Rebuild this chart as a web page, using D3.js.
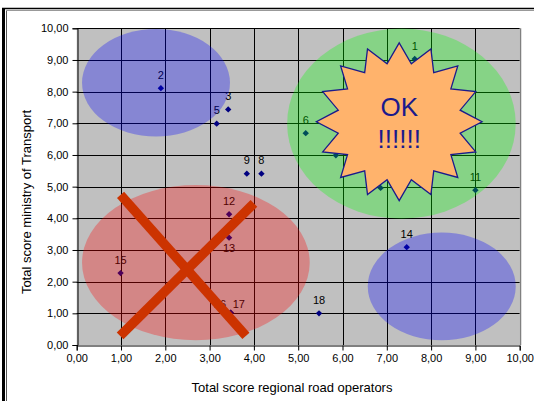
<!DOCTYPE html>
<html><head><meta charset="utf-8">
<script src="https://cdn.jsdelivr.net/npm/d3@7"></script>
<style>html,body{margin:0;padding:0;background:#fff;}svg{display:block;font-family:Arial,"Liberation Sans",sans-serif;}</style>
</head><body>
<svg id="c" width="534" height="401"></svg>
<script>
// ---- data ----
const pointLabels = ["1","2","3","5","6","7","8","9","10","11","12","13","14","15","16","17","18"];
const xScores = [7.63,1.90,3.42,3.16,5.17,5.85,4.17,3.84,6.86,9.00,3.44,3.44,7.45,0.99,3.47,3.48,5.47];
const yScores = [9.03,8.11,7.44,6.99,6.69,5.99,5.41,5.41,4.96,4.89,4.13,3.39,3.09,2.27,1.02,1.02,1.00];
const tickValues = [0,1,2,3,4,5,6,7,8,9,10];
const xTitle = "Total score regional road operators";
const yTitle = "Total score ministry of Transport";
// annotation shapes in data units
const ellipseNames = ["blueTop","green","red","blueBottom"];
const ellipseCx = [1.79,7.33,2.69,8.24];
const ellipseCy = [8.28,6.99,2.60,1.85];
const ellipseRx = [1.67,2.58,2.57,1.67];
const ellipseRy = [1.70,3.00,2.45,1.70];
const starCenter = [7.28,7.05];
const starRadii = [1.87,2.49];
const starText = ["OK","!!!!!!"];
const crossStart = [[0.99,4.74],[0.98,0.29]];
const crossEnd = [[3.82,0.29],[4.00,4.47]];

// ---- layout ----
const svg = d3.select("#c");
const x = d3.scaleLinear().domain([0,10]).range([76.7,519.7]);
const y = d3.scaleLinear().domain([0,10]).range([345,28.3]);
const fmt = d => d.toFixed(2).replace(".", ",");

// outer frame
svg.append("rect").attr("x",2).attr("y",8).attr("width",3).attr("height",393).attr("fill","#000");
svg.append("line").attr("x1",2).attr("x2",534).attr("y1",8.5).attr("y2",8.5).attr("stroke","#000").attr("stroke-width",1.5);
svg.append("line").attr("x1",6.5).attr("x2",6.5).attr("y1",10).attr("y2",401).attr("stroke","#555").attr("stroke-width",1);
svg.append("line").attr("x1",6).attr("x2",534).attr("y1",10.5).attr("y2",10.5).attr("stroke","#999").attr("stroke-width",1);

// plot area
svg.append("rect").attr("x",x(0)).attr("y",y(10)).attr("width",x(10)-x(0)).attr("height",y(0)-y(10))
  .attr("fill","#c0c0c0");
const grid = svg.append("g");
grid.selectAll(".gx").data(tickValues.filter(d=>d>0&&d<10)).join("line")
  .attr("x1",d=>Math.round(x(d))+0.5).attr("x2",d=>Math.round(x(d))+0.5)
  .attr("y1",y(10)).attr("y2",y(0)).attr("stroke","#000").attr("stroke-width",1);
grid.selectAll(".gy").data(tickValues.filter(d=>d>0)).join("line")
  .attr("y1",d=>Math.round(y(d))+0.5).attr("y2",d=>Math.round(y(d))+0.5)
  .attr("x1",x(0)).attr("x2",x(10)).attr("stroke","#000").attr("stroke-width",1);
svg.append("line").attr("x1",Math.round(x(10))+0.5).attr("x2",Math.round(x(10))+0.5)
  .attr("y1",y(10)).attr("y2",y(0)).attr("stroke","#808080").attr("stroke-width",1.5);

// axes
const xAxis = d3.axisBottom(x).tickValues(tickValues).tickFormat(fmt).tickSize(5).tickPadding(4);
const yAxis = d3.axisLeft(y).tickValues(tickValues).tickFormat(fmt).tickSize(5).tickPadding(4);
const gx = svg.append("g").attr("transform",`translate(0,${Math.round(y(0))+0.5})`).call(xAxis);
const gy = svg.append("g").attr("transform",`translate(${Math.round(x(0))+0.5},0)`).call(yAxis);
[gx,gy].forEach(g=>{
  g.selectAll("path,line").attr("stroke","#000");
  g.selectAll("text").attr("font-size",11).attr("fill","#000").attr("font-family","Arial, 'Liberation Sans', sans-serif");
});

// points
const pts = pointLabels.map((l,i)=>({label:l,x:xScores[i],y:yScores[i]}));
const labelNudge = {"13":[0,23.5],"16":[-10.5,4.5],"17":[8,4.5]};
svg.append("g").selectAll("path").data(pts).join("path")
  .attr("d",d=>{const cx=x(d.x), cy=y(d.y), r=3.2; return `M${cx},${cy-r}L${cx+r},${cy}L${cx},${cy+r}L${cx-r},${cy}Z`;})
  .attr("fill","#000080");
svg.append("g").selectAll("text").data(pts).join("text")
  .attr("x",d=>x(d.x)+(labelNudge[d.label]?labelNudge[d.label][0]:0))
  .attr("y",d=>y(d.y)-9.5+(labelNudge[d.label]?labelNudge[d.label][1]:0))
  .attr("text-anchor","middle").attr("font-size",11).attr("fill","#000")
  .text(d=>d.label);

// translucent ellipses (on top of points and grid)
const ellipseFill = {blueTop:"#0000ff",green:"#00ff00",red:"#ff0000",blueBottom:"#0000ff"};
svg.append("g").selectAll("ellipse").data(ellipseNames).join("ellipse")
  .attr("cx",(d,i)=>x(ellipseCx[i])).attr("cy",(d,i)=>y(ellipseCy[i]))
  .attr("rx",(d,i)=>x(ellipseRx[i])-x(0)).attr("ry",(d,i)=>y(0)-y(ellipseRy[i]))
  .attr("fill",d=>ellipseFill[d]).attr("fill-opacity",0.3);

// starburst
const scx = x(starCenter[0]), scy = y(starCenter[1]);
const srx = x(starRadii[0])-x(0), sry = y(0)-y(starRadii[1]);
const nSpikes = 16, inner = 0.75;
const starPts = d3.range(nSpikes*2).map(k=>{
  const a = -Math.PI/2 + k*Math.PI/nSpikes;
  const r = k%2===0 ? 1 : inner;
  return [scx + r*srx*Math.cos(a), scy + r*sry*Math.sin(a)];
});
svg.append("path").attr("d","M"+starPts.map(p=>p.join(",")).join("L")+"Z")
  .attr("fill","#ffb36c").attr("stroke","#1a1a8c").attr("stroke-width",1.3).attr("stroke-linejoin","miter");
svg.append("text").attr("x",scx).attr("y",scy-5.5).attr("text-anchor","middle")
  .attr("font-size",26).attr("fill","#1a1a8c").text(starText[0]);
svg.append("text").attr("x",scx).attr("y",scy+26).attr("text-anchor","middle")
  .attr("font-size",26).attr("fill","#1a1a8c").text(starText[1]);

// red cross
svg.append("g").selectAll("line").data(crossStart).join("line")
  .attr("x1",d=>x(d[0])).attr("y1",d=>y(d[1]))
  .attr("x2",(d,i)=>x(crossEnd[i][0])).attr("y2",(d,i)=>y(crossEnd[i][1]))
  .attr("stroke","#cc3300").attr("stroke-width",9.5).attr("stroke-linecap","butt");

// titles
svg.append("text").attr("x",292).attr("y",391.5).attr("text-anchor","middle")
  .attr("font-size",13).attr("fill","#000").text(xTitle);
svg.append("text").attr("transform","translate(31,202) rotate(-90)").attr("text-anchor","middle")
  .attr("font-size",13).attr("fill","#000").text(yTitle);
</script>
</body></html>
